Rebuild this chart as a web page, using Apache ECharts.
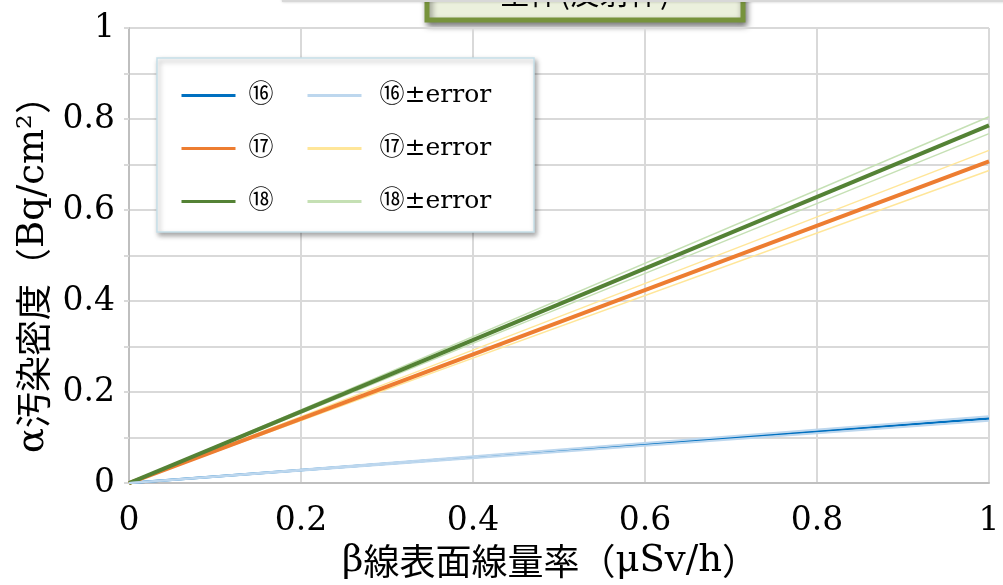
<!DOCTYPE html>
<html>
<head>
<meta charset="utf-8">
<script src="https://cdn.jsdelivr.net/npm/echarts@6/dist/echarts.min.js"></script>
<style>
  html, body { margin: 0; padding: 0; background: #ffffff; }
  #chart { width: 1003px; height: 585px; }
</style>
</head>
<body>
<div id="chart"></div>
<script>
// Dose rate (x) against alpha contamination density (y): fitted lines and their error bounds
const xValues = [0, 1];

const line16 = [0, 0.142];
const line16Upper = [0, 0.147];
const line16Lower = [0, 0.137];

const line17 = [0, 0.707];
const line17Upper = [0, 0.731];
const line17Lower = [0, 0.687];

const line18 = [0, 0.786];
const line18Upper = [0, 0.805];
const line18Lower = [0, 0.768];

const xTickLabels = ['0', '0.2', '0.4', '0.6', '0.8', '1'];
const yTickLabels = ['0', '0.2', '0.4', '0.6', '0.8', '1'];

const mainNames = ['⑯', '⑰', '⑱'];
const errorNames = ['⑯±error', '⑰±error', '⑱±error'];

const serif = "'DejaVu Serif', 'Noto Sans CJK JP', serif";
const gothic = "'Noto Sans CJK JP', sans-serif";

// Axis titles mix a serif face for Latin/Greek with a gothic face for kanji
const titleRich = {
  a: { fontFamily: serif, fontSize: 37, color: '#000' },
  c: { fontFamily: gothic, fontSize: 36, color: '#000' }
};

function pairs(ys) {
  return xValues.map((x, i) => [x, ys[i]]);
}

function tickText(labels) {
  return function (v) {
    const s = String(Math.round(v * 10) / 10);
    return labels.indexOf(s) >= 0 ? s : '';
  };
}

function lineSeries(name, ys, color, width, z) {
  return {
    name: name,
    type: 'line',
    data: pairs(ys),
    symbol: 'none',
    showSymbol: false,
    silent: true,
    z: z,
    lineStyle: { color: color, width: width },
    itemStyle: { color: color }
  };
}

function legendColumn(names, left, textPad) {
  return {
    data: names,
    orient: 'vertical',
    left: left, top: 78,
    itemWidth: 54, itemHeight: 14, itemGap: 28,
    z: 20,
    selectedMode: false,
    itemStyle: { opacity: 0 },
    lineStyle: { width: 3 },
    textStyle: { fontFamily: serif, fontSize: 25, color: '#000', padding: [0, 0, 0, textPad] }
  };
}

const chart = echarts.init(document.getElementById('chart'), null, { renderer: 'canvas' });

chart.setOption({
  animation: false,
  backgroundColor: '#ffffff',
  grid: { left: 129, right: 14, top: 28, bottom: 99, containLabel: false },
  xAxis: {
    type: 'value',
    min: 0, max: 1, interval: 0.2,
    name: '{a|β}{c|線表面線量率（}{a|μSv/h}{c|）}',
    nameLocation: 'middle',
    nameGap: 57,
    nameTextStyle: { rich: titleRich, padding: [0, 18, 0, 0] },
    axisLine: { lineStyle: { color: '#bfbfbf', width: 2 } },
    axisTick: { show: false },
    axisLabel: { fontFamily: serif, fontSize: 33, color: '#000', margin: 22, formatter: tickText(xTickLabels) },
    splitLine: { show: true, lineStyle: { color: '#d9d9d9', width: 2 } }
  },
  yAxis: {
    type: 'value',
    min: 0, max: 1, interval: 0.2,
    name: '{a|α}{c|汚染密度（}{a|Bq/cm²}{c|）}',
    nameLocation: 'middle',
    nameRotate: 90,
    nameGap: 68,
    nameTextStyle: { rich: titleRich, padding: [0, 20, 0, 0] },
    axisLine: { show: true, lineStyle: { color: '#bfbfbf', width: 2 } },
    axisTick: { show: true, length: 5, lineStyle: { color: '#d9d9d9', width: 2 } },
    minorTick: { show: true, splitNumber: 2, length: 5, lineStyle: { color: '#d9d9d9', width: 2 } },
    axisLabel: { fontFamily: serif, fontSize: 33, color: '#000', margin: 14, formatter: tickText(yTickLabels) },
    splitLine: { show: true, lineStyle: { color: '#d9d9d9', width: 2 } },
    minorSplitLine: { show: true, lineStyle: { color: '#d9d9d9', width: 2 } }
  },
  legend: [
    legendColumn(mainNames, 175, 8),
    legendColumn(errorNames, 301, 13)
  ],
  graphic: [
    // edge of the panel above the chart
    { type: 'rect', z: 5, silent: true,
      shape: { x: 283, y: -10, width: 730, height: 11 },
      style: { fill: '#ffffff', stroke: '#d8d8d8', lineWidth: 2, shadowBlur: 3, shadowColor: 'rgba(0,0,0,0.15)' } },
    // caption box, mostly above the canvas
    { type: 'group', z: 6, silent: true, children: [
      { type: 'rect',
        shape: { x: 427, y: -40, width: 316, height: 60 },
        style: { fill: '#ebf0dd', stroke: '#77933c', lineWidth: 5,
                 shadowBlur: 6, shadowOffsetX: 2, shadowOffsetY: 4, shadowColor: 'rgba(0,0,0,0.45)' } },
      { type: 'text', x: 585, y: -7,
        style: { text: '全体(反射体)', fontFamily: gothic, fontSize: 30,
                 fill: '#000', align: 'center', verticalAlign: 'middle' } }
    ] },
    // legend frame
    { type: 'rect', z: 10, silent: true,
      shape: { x: 157, y: 58, width: 377, height: 174 },
      style: { fill: '#ffffff', stroke: '#c6dfe9', lineWidth: 1.5,
               shadowBlur: 5, shadowOffsetX: 2, shadowOffsetY: 3, shadowColor: 'rgba(0,0,0,0.35)' } }
  ],
  series: [
    lineSeries('⑯', line16, '#0070c0', 2.5, 2),
    lineSeries('⑰', line17, '#ed7d31', 4, 3),
    lineSeries('⑱', line18, '#548235', 4, 3),
    lineSeries('⑯±error', line16Upper, '#bdd7ee', 2, 4),
    lineSeries('⑯±error', line16Lower, '#bdd7ee', 2, 4),
    lineSeries('⑰±error', line17Upper, '#ffe699', 1.5, 2),
    lineSeries('⑰±error', line17Lower, '#ffe699', 1.5, 2),
    lineSeries('⑱±error', line18Upper, '#c5e0b4', 1.5, 2),
    lineSeries('⑱±error', line18Lower, '#c5e0b4', 1.5, 2)
  ]
});
</script>
</body>
</html>
